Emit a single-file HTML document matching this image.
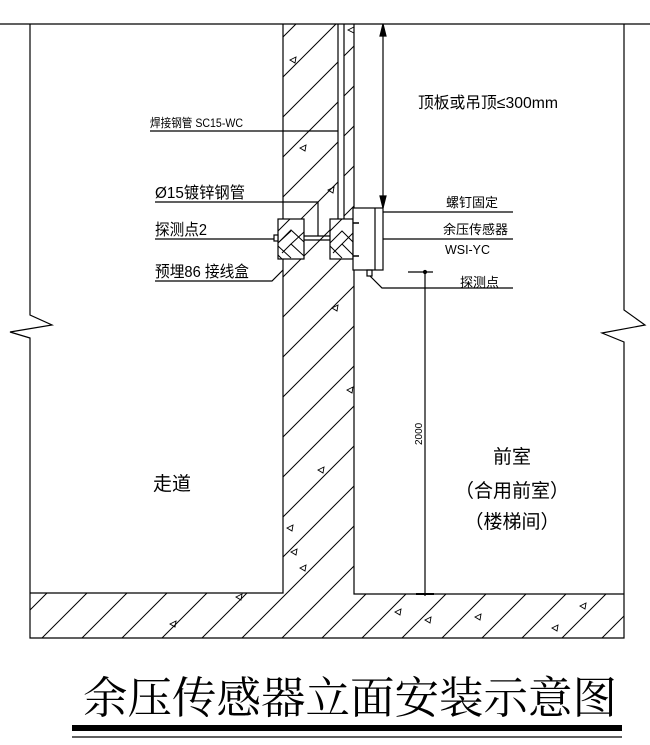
<!DOCTYPE html>
<html><head><meta charset="utf-8"><style>
html,body{margin:0;padding:0;background:#fff;width:650px;height:745px;overflow:hidden}
svg{display:block}
text{font-family:"Liberation Sans","Noto Sans CJK SC",sans-serif;fill:#000}
</style></head><body>
<svg width="650" height="745" viewBox="0 0 650 745" xmlns="http://www.w3.org/2000/svg">
<defs>
<pattern id="h" patternUnits="userSpaceOnUse" width="40" height="40">
<line x1="-2" y1="42" x2="42" y2="-2" stroke="#000" stroke-width="1"/>
<line x1="-2" y1="2" x2="2" y2="-2" stroke="#000" stroke-width="1"/>
<line x1="38" y1="42" x2="42" y2="38" stroke="#000" stroke-width="1"/>
</pattern>
</defs>
<g stroke="#000" stroke-width="1.2" fill="none">
<polygon points="283,24 354,24 354,594 624,594 624,638 30,638 30,593 283,593" fill="url(#h)" stroke="none"/>
<rect x="338" y="24" width="6" height="195" fill="#fff" stroke="none"/>
<line x1="0" y1="24" x2="650" y2="24"/>
<polyline points="30,24 30,315 52,325 10,332 30,338 30,638 624,638 624,342 602,333 645,325 624,310 624,24"/>
<polyline points="283,24 283,593 30,593"/>
<polyline points="354,24 354,594 624,594"/>
<line x1="338" y1="24" x2="338" y2="219"/>
<line x1="344" y1="24" x2="344" y2="219"/>
<rect x="278" y="219" width="26" height="40" fill="#fff"/>
<rect x="330" y="219" width="23" height="40" fill="#fff"/>
<g stroke-width="1">
<path d="M278,231 l12,-12 M278,243 l13,-13 l13,12 M282,253 l9,-9 l13,12 M291,231 l-13,12 M291,244 l13,-12 M291,258 l-13,-12 M278,255 l4,4"/>
<path d="M330,231 l12,-12 M330,243 l12,-12 l11,11 M333,253 l9,-9 l11,11 M342,231 l-12,12 M342,244 l11,-11 M342,258 l-12,-12"/>
</g>
<line x1="304" y1="236" x2="330" y2="236"/><line x1="304" y1="240" x2="330" y2="240"/>
<rect x="274" y="235" width="4" height="6" fill="#fff"/>
<rect x="353" y="208" width="30" height="62" fill="#fff"/>
<line x1="375" y1="208" x2="375" y2="270"/>
<rect x="367" y="270" width="5" height="6"/>
<path d="M353,223 l6,0 M353,256 l6,0" stroke-width="1.5"/>
<line x1="383" y1="24" x2="383" y2="208"/>
<polygon points="383,24 380,36 386,36" fill="#000"/>
<polygon points="383,208 380,196 386,196" fill="#000"/>
<line x1="408" y1="272" x2="433" y2="272"/>
<line x1="425" y1="272" x2="425" y2="596"/>
<circle cx="425" cy="272" r="1.5" fill="#000"/>
<line x1="416" y1="594" x2="434" y2="594" stroke-width="2"/>
<line x1="150" y1="131" x2="338" y2="131"/>
<polyline points="155,202 318,202 318,236"/>
<line x1="155" y1="239" x2="274" y2="239"/>
<polyline points="155,281 272,281 283,270"/>
<line x1="383" y1="212" x2="513" y2="212"/>
<line x1="383" y1="239" x2="513" y2="239"/>
<polyline points="370,276 382,288 513,288"/>
<line x1="72" y1="728" x2="622" y2="728" stroke-width="6"/>
<line x1="72" y1="737" x2="622" y2="737" stroke-width="1.2"/>
</g>
<g stroke="#000" stroke-width="0.9" fill="none">
<path d="M290,60 l6,-3 l-1,6z M300,148 l6,-3 l-1,6z M328,190 l6,-3 l-1,6z M332,308 l6,-3 l-1,6z M347,390 l6,-3 l-1,6z M318,470 l6,-3 l-1,6z M287,528 l6,-3 l-1,6z M291,552 l6,-3 l-1,6z M300,568 l6,-3 l-1,6z M236,597 l6,-3 l-1,6z M170,624 l6,-3 l-1,6z M395,612 l6,-3 l-1,6z M425,620 l6,-3 l-1,6z M475,617 l6,-3 l-1,6z M580,606 l6,-3 l-1,6z M552,628 l6,-3 l-1,6z"/>
<path d="M348,30 l6,-3 l0,6z"/>
</g>
<text x="418" y="108" font-size="16" textLength="140" lengthAdjust="spacingAndGlyphs">顶板或吊顶≤300mm</text>
<text x="150" y="127" font-size="12" textLength="93" lengthAdjust="spacingAndGlyphs">焊接钢管 SC15-WC</text>
<text x="155" y="198" font-size="16" textLength="90" lengthAdjust="spacingAndGlyphs">Ø15镀锌钢管</text>
<text x="155" y="235" font-size="16" textLength="52" lengthAdjust="spacingAndGlyphs">探测点2</text>
<text x="155" y="277" font-size="16" textLength="94" lengthAdjust="spacingAndGlyphs">预埋86 接线盒</text>
<text x="446" y="207" font-size="13">螺钉固定</text>
<text x="443" y="234" font-size="13">余压传感器</text>
<text x="445" y="254" font-size="13" textLength="45" lengthAdjust="spacingAndGlyphs">WSI-YC</text>
<text x="460" y="287" font-size="13">探测点</text>
<text x="0" y="0" font-size="10" transform="translate(422,445) rotate(-90)">2000</text>
<text x="172" y="490" font-size="19" text-anchor="middle">走道</text>
<text x="512" y="463" font-size="19" text-anchor="middle">前室</text>
<text x="512" y="497" font-size="19" text-anchor="middle">（合用前室）</text>
<text x="512" y="528" font-size="19" text-anchor="middle">（楼梯间）</text>
<text x="83" y="713" font-size="44" textLength="534" lengthAdjust="spacingAndGlyphs" style="font-family:'Liberation Serif','Noto Serif CJK SC',serif">余压传感器立面安装示意图</text>
</svg>
</body></html>
